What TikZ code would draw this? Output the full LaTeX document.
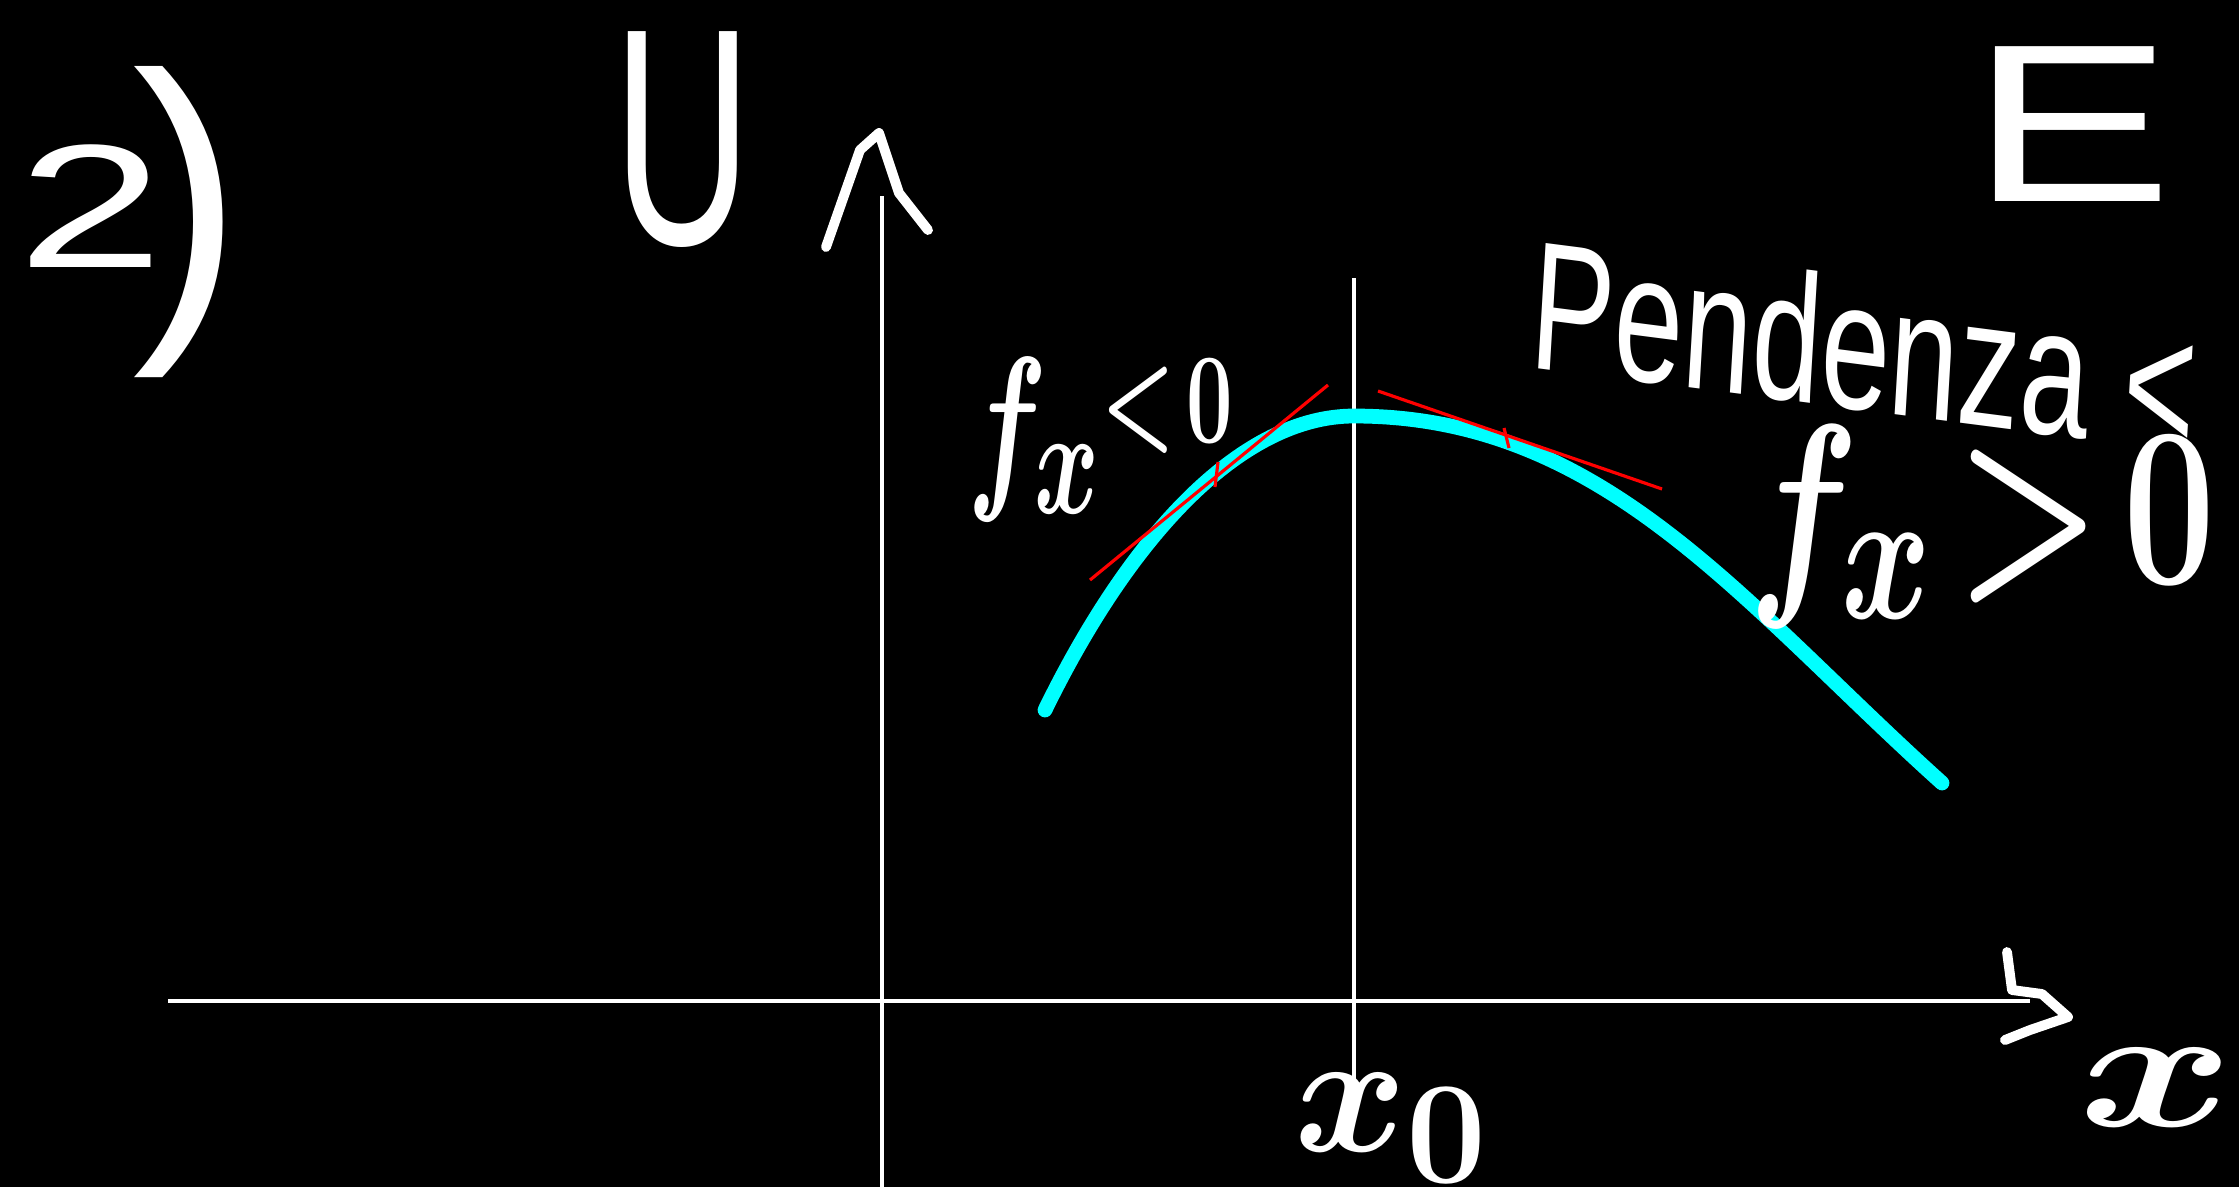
\documentclass[tikz,border=0pt]{standalone}
\usepackage{fontspec}
\setmainfont{Liberation Sans}
\usepackage{tikz}
\usetikzlibrary{positioning,calc}
\definecolor{board}{RGB}{0,0,0}
\definecolor{chalk}{RGB}{255,255,255}
\definecolor{curvecol}{RGB}{0,255,255}
\definecolor{tangent}{RGB}{255,0,0}

\begin{document}
\begin{tikzpicture}[
    x=0.01cm,y=-0.01cm,
    axis/.style={chalk,line width=#1},
    pen/.style={chalk,line width=2.8pt,line cap=round,line join=round},
    hand/.style={text=chalk,inner sep=0pt,font=\fontsize{#1}{#1}\selectfont},
    handmath/.style={text=chalk,inner sep=0pt,font=\fontsize{24.88pt}{24.88pt}\selectfont\boldmath},
    tan/.style={tangent,line width=0.9pt}
]
\fill[board] (0,0) rectangle (2239,1187);
\useasboundingbox (0,0) rectangle (2239,1187);

% axes
\coordinate (ybot) at (882,1187);
\coordinate (ytop) at (882,196);
\coordinate (xleft) at (168,1001);
\coordinate (xright) at (2030,1001);
\draw[axis=0.9pt] (ybot) -- (ytop);
\draw[axis=1.4pt] (xleft) -- (xright);
\draw[pen] (826,247) -- (860,150) -- (879,133) -- (899,193) -- (928,230);
\draw[pen] (2007,952) -- (2012,990) -- (2042,994) -- (2068,1017) -- (2030,1030) -- (2005,1040);

% x0 line
\coordinate (vtop) at (1354,278);
\coordinate (vbot) at (1354,1090);
\draw[axis=0.9pt] (vtop) -- (vbot);

% curve
\coordinate (cstart) at (1045,710);
\coordinate (cmax) at (1354,416);
\coordinate (cend) at (1942,783);
\draw[curvecol,line width=4.2pt,line cap=round]
  (cstart) .. controls (1133,530) and (1244,416) .. (cmax)
  .. controls (1604,416) and (1742,603) .. (cend);

% tangents
\coordinate (tl1) at (1090,580);
\coordinate (tl2) at (1328,385);
\coordinate (tr1) at (1378,391);
\coordinate (tr2) at (1662,489);
\draw[tan] (tl1) -- (tl2);
\draw[tan] (tr1) -- (tr2);
\draw[tan] (1218,462) -- (1215,487);
\draw[tan] (1504,428) -- (1509,448);

% labels
\node[hand=50pt,xscale=1.5,transform shape] (num) at (91,206) {2};
\node[hand=95pt] (par) at (188,222) {)};
\node[hand=88pt,xscale=0.62,transform shape] (ulab) at (683,140) {U};
\node[hand=64pt,xscale=1.35,transform shape] (elab) at (2072,124) {E};
\node[handmath,xscale=1.35,yscale=2.1,transform shape] (fneg) at (1100,440) {$f_x$\raisebox{0.45ex}{\scalebox{0.7}{$<\!0$}}};
\node[hand=52pt,xscale=0.68,rotate=-5,transform shape] (pend) at (1865,345) {Pendenza <};
\node[handmath,xscale=1.87,yscale=2.6,transform shape] (fpos) at (1982,527) {$f_x\!>\!0$};
\node[handmath,xscale=1.95,yscale=2.0,transform shape] (x0lab) at (1392,1128) {$x_0$};
\node[handmath,xscale=2.7,yscale=2.0,transform shape] (xlab) at (2156,1088) {$x$};

\end{tikzpicture}
\end{document}
